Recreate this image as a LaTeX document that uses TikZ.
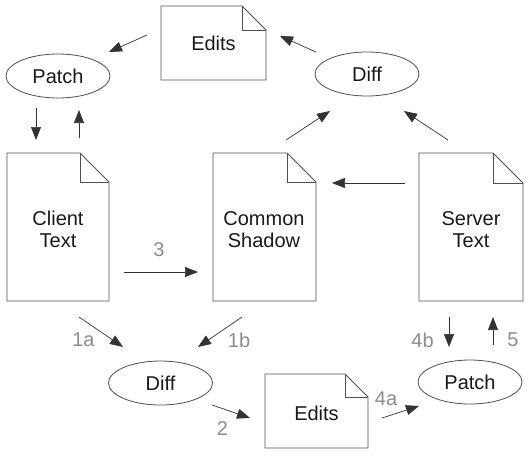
\documentclass[tikz,border=0pt]{standalone}
\usepackage{fontspec}
\setmainfont{Liberation Sans}
\usetikzlibrary{shapes.geometric,arrows.meta}
\definecolor{linegray}{HTML}{505050}
\definecolor{labelgray}{HTML}{8C8C8C}
\tikzset{
  doctext/.style={align=center,inner sep=0pt,font=\fontsize{20}{22.5}\selectfont,text=black!90},
  docline/.style={draw=linegray,line width=0.9pt,line join=miter},
  ellnode/.style={ellipse,draw=linegray,line width=0.8pt,minimum width=104pt,minimum height=44pt,inner sep=0pt,font=\fontsize{20}{23}\selectfont,text=black!90},
  arr/.style={draw=black!80,line width=0.7pt,-{Triangle[length=13pt,width=10pt]}},
  lbl/.style={inner sep=0pt,font=\fontsize{20}{23}\selectfont,text=labelgray},
}
\newcommand{\docshape}[5]{% x1 y1 x2 y2 fold
  \draw[docline] (#1,#2) -- ({#3-#5},#2) -- (#3,{#2+#5}) -- (#3,#4) -- (#1,#4) -- cycle;
  \draw[docline] ({#3-#5},#2) -- ({#3-#5},{#2+#5}) -- (#3,{#2+#5});
}
\begin{document}
\begin{tikzpicture}[x=1pt,y=-1pt]
\useasboundingbox (0,0) rectangle (529,455);
% documents
\docshape{161}{6}{266}{80}{24}
\node[doctext] (editsT) at (213.5,43) {Edits};
\docshape{7}{153}{109}{301}{29}
\node[doctext] (client) at (58,229.5) {Client\\Text};
\docshape{213}{153}{316}{301}{29}
\node[doctext] (shadow) at (264,229.5) {Common\\Shadow};
\docshape{419}{153}{523}{301}{30}
\node[doctext] (server) at (471,229.5) {Server\\Text};
\docshape{265}{374}{368}{448}{23}
\node[doctext] (editsB) at (316.5,413) {Edits};
% ellipses
\node[ellnode] (patchT) at (58,76) {Patch};
\node[ellnode] (diffT) at (367,74) {Diff};
\node[ellnode] (diffB) at (160.5,383) {Diff};
\node[ellnode] (patchB) at (470,382) {Patch};
% arrow end points
\coordinate (a1s) at (147,35);  \coordinate (a1e) at (109,52);
\coordinate (a2s) at (36,108);  \coordinate (a2e) at (36,140);
\coordinate (a3s) at (79,138);  \coordinate (a3e) at (79,110);
\coordinate (a4s) at (316,52);  \coordinate (a4e) at (280,36);
\coordinate (a5s) at (286,140); \coordinate (a5e) at (330,111);
\coordinate (a6s) at (448,140); \coordinate (a6e) at (404,111);
\coordinate (a7s) at (405,183); \coordinate (a7e) at (332,183);
\coordinate (a8s) at (124,272); \coordinate (a8e) at (198,272);
\coordinate (a9s) at (79,317);  \coordinate (a9e) at (123,347);
\coordinate (a10s) at (242,317); \coordinate (a10e) at (198,347);
\coordinate (a11s) at (212,405); \coordinate (a11e) at (250,418);
\coordinate (a12s) at (382,418); \coordinate (a12e) at (419,406);
\coordinate (a13s) at (449,317); \coordinate (a13e) at (449,347);
\coordinate (a14s) at (493,345); \coordinate (a14e) at (493,317);
\foreach \i in {1,...,14}{\draw[arr] (a\i s) -- (a\i e);}
% labels
\node[lbl] (l3) at (159,250) {3};
\node[lbl] (l1a) at (83.5,340) {1a};
\node[lbl] (l1b) at (239,340) {1b};
\node[lbl] (l2) at (222.5,428.5) {2};
\node[lbl] (l4a) at (386,399) {4a};
\node[lbl] (l4b) at (422.5,340) {4b};
\node[lbl] (l5) at (513,340) {5};
\end{tikzpicture}
\end{document}
